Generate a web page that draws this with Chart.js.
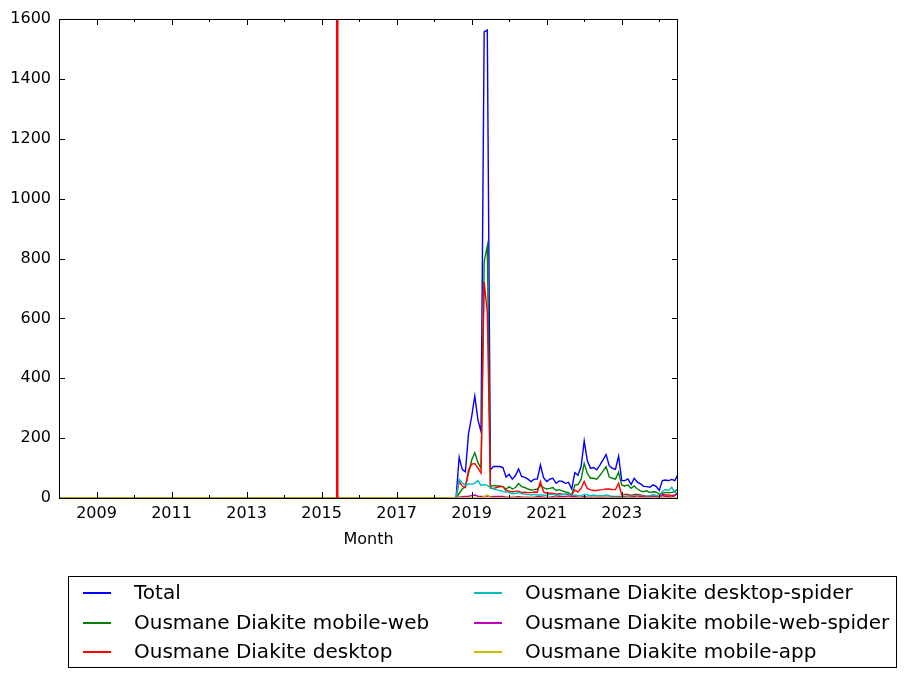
<!DOCTYPE html>
<html>
<head>
<meta charset="utf-8">
<script src="https://cdn.jsdelivr.net/npm/chart.js@4.4.1/dist/chart.umd.min.js"></script>
<style>
  html, body { margin:0; padding:0; background:#fff; }
  #wrap { position:relative; width:907px; height:679px; }
  #c { position:absolute; left:0; top:0; }
  #legend { position:absolute; left:68px; top:576px; width:827px; height:90px; border:1px solid #000;
            font-family:'DejaVu Sans', sans-serif; font-size:20px; color:#000; }
  .item { position:absolute; height:24px; white-space:nowrap; }
  .item i { position:absolute; left:0; top:11px; width:28px; height:2px; }
  .item span { position:absolute; left:51px; top:-1px; line-height:24px; }
</style>
</head>
<body>
<div id="wrap">
  <canvas id="c" width="907" height="679"></canvas>
  <div id="legend"></div>
</div>
<script>
// monthly views, 2018-09 .. 2024-07 (all zero before that)
const firstMonth = [2008, 1];
const lastMonth = [2024, 7];
const dataStart = [2018, 9];
const markerMonth = [2015, 6];

const seriesNames = ['Total', 'Ousmane Diakite mobile-web', 'Ousmane Diakite desktop',
  'Ousmane Diakite desktop-spider', 'Ousmane Diakite mobile-web-spider', 'Ousmane Diakite mobile-app'];
const seriesColors = ['#0000ff', '#008000', '#ff0000', '#00bfbf', '#bf00bf', '#bfbf00'];

const total = [136,95,88,216,272,341,261,222,1557,1563,
  94,105,105,105,102,70,79,63,75,97,
  72,69,63,55,63,63,110,68,55,63,
  66,49,57,55,49,52,30,85,76,105,
  190,124,99,102,94,110,127,145,108,99,
  96,140,58,58,64,45,66,53,47,39,
  38,36,44,39,25,58,60,58,62,58,
  80];
const mobileWeb = [15,30,38,82,127,151,118,100,790,842,
  38,42,40,40,38,30,38,30,35,48,
  38,35,30,27,28,30,41,35,30,32,
  35,25,28,24,20,18,10,43,45,62,
  116,82,66,66,63,75,90,105,70,66,
  63,86,43,40,43,32,40,30,24,21,
  24,18,21,20,12,16,18,18,18,22,
  30];
const desktop = [55,40,35,94,113,115,100,83,722,620,
  32,32,35,38,38,25,23,20,23,23,
  18,19,18,18,20,19,55,20,16,16,
  15,13,14,13,12,12,10,27,20,32,
  55,32,27,25,25,27,28,30,30,28,
  28,49,10,12,12,8,12,12,10,8,
  6,7,6,6,5,12,10,10,8,10,
  15];
const desktopSpider = [62,50,42,48,45,50,58,42,45,42,
  35,30,27,25,22,20,18,15,15,18,
  14,13,12,10,12,10,10,10,8,12,
  12,8,10,13,12,15,6,10,8,8,
  12,10,8,10,8,8,8,10,8,5,
  5,5,5,6,8,5,8,8,8,6,
  5,8,12,8,5,22,28,25,36,18,
  17];
const mobileWebSpider = [3,4,5,6,8,10,6,5,4,6,
  4,5,5,5,5,3,3,3,3,5,
  3,3,3,2,3,4,4,3,2,3,
  4,3,5,5,5,7,4,5,3,3,
  5,3,3,3,3,3,3,3,3,3,
  3,3,3,3,3,3,5,3,5,4,
  3,3,5,5,3,8,5,5,3,8,
  18];
const mobileApp = [0,0,0,0,0,0,0,0,5,10,
  3,0,0,0,0,0,0,0,0,0,
  0,0,0,0,0,0,0,0,0,0,
  0,0,0,0,0,0,0,0,0,0,
  0,0,0,0,0,0,0,0,0,0,
  0,0,0,0,0,0,0,0,0,0,
  0,0,0,0,0,0,0,0,0,0,
  0];
const allSeries = [total, mobileWeb, desktop, desktopSpider, mobileWebSpider, mobileApp];

const yearTicks = [2009, 2011, 2013, 2015, 2017, 2019, 2021, 2023];
const minorYears = [2008, 2010, 2012, 2014, 2016, 2018, 2020, 2022, 2024];
const yTicks = [0, 200, 400, 600, 800, 1000, 1200, 1400, 1600];

const toX = (y, m) => y + (m - 1) / 12;

// month list for the whole axis
const months = [];
for (let y = firstMonth[0], m = firstMonth[1]; y < lastMonth[0] || (y === lastMonth[0] && m <= lastMonth[1]); ) {
  months.push([y, m]);
  m++; if (m > 12) { m = 1; y++; }
}
const startIdx = months.findIndex(d => d[0] === dataStart[0] && d[1] === dataStart[1]);

function seriesPoints(arr){
  return months.map((d, i) => ({ x: toX(d[0], d[1]), y: i < startIdx ? 0 : arr[i - startIdx] }));
}

const datasets = allSeries.map((arr, i) => ({
  label: seriesNames[i],
  data: seriesPoints(arr),
  borderColor: seriesColors[i],
  borderWidth: 1.4,
  pointRadius: 0,
  tension: 0,
  fill: false,
  order: 10 - i
}));
const mx = toX(markerMonth[0], markerMonth[1]);
datasets.push({
  label: 'marker',
  data: [{ x: mx, y: 0 }, { x: mx, y: 1600 }],
  borderColor: '#ff0000',
  borderWidth: 2.6,
  pointRadius: 0,
  order: 0
});

const fontFam = "'DejaVu Sans', sans-serif";

// frame + inward ticks like matplotlib classic
const frameTicks = {
  id: 'frameTicks',
  afterDatasetsDraw(chart){
    const { ctx, chartArea: a, scales: { x, y } } = chart;
    ctx.save();
    ctx.strokeStyle = '#000';
    ctx.lineWidth = 1;
    ctx.strokeRect(a.left + 0.5, a.top + 0.5, a.right - a.left - 1, a.bottom - a.top);
    ctx.beginPath();
    yearTicks.forEach(v => {
      const px = Math.round(x.getPixelForValue(v)) + 0.5;
      ctx.moveTo(px, a.bottom); ctx.lineTo(px, a.bottom - 6);
      ctx.moveTo(px, a.top); ctx.lineTo(px, a.top + 6);
    });
    minorYears.forEach(v => {
      const px = Math.round(x.getPixelForValue(v)) + 0.5;
      ctx.moveTo(px, a.bottom); ctx.lineTo(px, a.bottom - 3);
      ctx.moveTo(px, a.top); ctx.lineTo(px, a.top + 3);
    });
    yTicks.forEach(v => {
      const py = Math.round(y.getPixelForValue(v)) + 0.5;
      ctx.moveTo(a.left, py); ctx.lineTo(a.left + 6, py);
      ctx.moveTo(a.right, py); ctx.lineTo(a.right - 6, py);
    });
    ctx.stroke();
    ctx.restore();
  }
};

new Chart(document.getElementById('c'), {
  type: 'line',
  data: { datasets },
  options: {
    responsive: false,
    animation: false,
    devicePixelRatio: 1,
    layout: { padding: { left: 0, top: 19, right: 229, bottom: 0 } },
    plugins: { legend: { display: false }, tooltip: { enabled: false } },
    scales: {
      x: {
        type: 'linear',
        min: toX(firstMonth[0], firstMonth[1]),
        max: toX(lastMonth[0], lastMonth[1]),
        grid: { display: false, drawTicks: false },
        border: { display: false },
        afterBuildTicks: s => { s.ticks = yearTicks.map(v => ({ value: v })); },
        afterFit: s => { s.height = 181; },
        ticks: { autoSkip: false, maxRotation: 0, padding: 6, color: '#000',
                 font: { family: fontFam, size: 16 }, callback: v => String(v) },
        title: { display: true, text: 'Month', color: '#000',
                 font: { family: fontFam, size: 16 }, padding: { top: 0, bottom: 130 } }
      },
      y: {
        min: 0, max: 1600,
        grid: { display: false, drawTicks: false },
        border: { display: false },
        afterBuildTicks: s => { s.ticks = yTicks.map(v => ({ value: v })); },
        afterFit: s => { s.width = 59; },
        ticks: { padding: 8, color: '#000', font: { family: fontFam, size: 16 },
                 callback: v => String(v) }
      }
    }
  },
  plugins: [frameTicks]
});

// legend, two columns filled top-down
const legend = document.getElementById('legend');
const colLeft = [14, 405], rowTop = [4, 34, 63];
seriesNames.forEach((name, i) => {
  const col = Math.floor(i / 3), row = i % 3;
  const it = document.createElement('div');
  it.className = 'item';
  it.style.left = colLeft[col] + 'px';
  it.style.top = rowTop[row] + 'px';
  it.innerHTML = `<i style="background-color:${seriesColors[i]}"></i><span>${name}</span>`;
  legend.appendChild(it);
});
</script>
</body>
</html>
